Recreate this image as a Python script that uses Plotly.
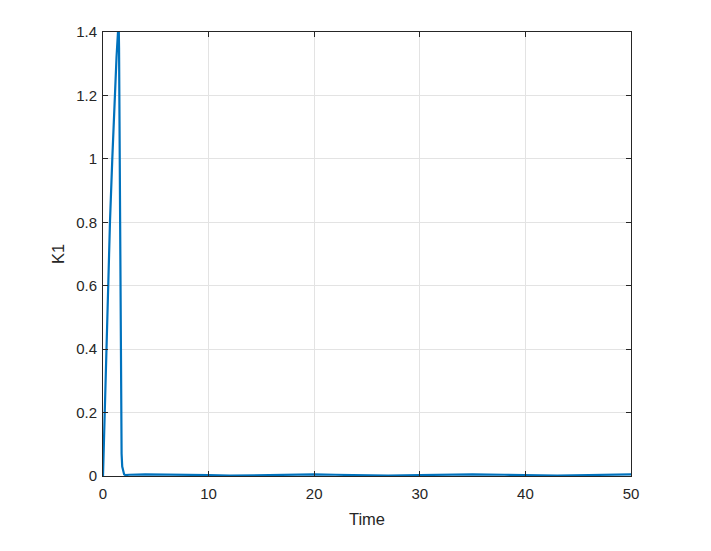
import plotly.graph_objects as go

time = [0, 0.08, 0.16, 0.28, 0.47, 0.66, 0.88, 1.1, 1.28, 1.42, 1.49, 1.52, 1.55, 1.58, 1.61, 1.64, 1.67, 1.71, 1.76, 1.82, 1.9, 2.0, 2.1, 2.5,
        4, 6, 8, 10, 12, 14, 16, 18, 20, 22, 24, 27, 30, 32, 35, 38, 40, 43, 46, 48, 50]
k1 = [0, 0.1, 0.2, 0.4, 0.6, 0.8, 1.0, 1.2, 1.32, 1.40, 1.42, 1.35, 1.15, 0.95, 0.75, 0.5, 0.3, 0.15, 0.07, 0.03, 0.012, 0.005, 0.003, 0.004,
      0.005, 0.005, 0.005, 0.003, 0.001, 0.002, 0.004, 0.005, 0.005, 0.004, 0.003, 0.001, 0.003, 0.004, 0.005, 0.004, 0.003, 0.001, 0.003, 0.004, 0.005]

x_ticks = [0, 10, 20, 30, 40, 50]
y_ticks = [0, 0.2, 0.4, 0.6, 0.8, 1.0, 1.2, 1.4]
y_tick_text = ["0", "0.2", "0.4", "0.6", "0.8", "1", "1.2", "1.4"]

fig = go.Figure()
fig.add_trace(go.Scatter(x=time, y=k1, mode="lines",
                         line=dict(color="#0072BD", width=2.2), showlegend=False))

axis_common = dict(
    showline=True, linecolor="#262626", linewidth=1, mirror="ticks",
    ticks="inside", ticklen=5, tickcolor="#262626",
    showgrid=True, gridcolor="#e3e3e3", gridwidth=1, zeroline=False,
    tickfont=dict(family="Liberation Sans, Arial", size=15, color="#262626"),
)

title_font = dict(family="Liberation Sans, Arial", size=16.5, color="#262626")

fig.update_layout(
    width=711, height=551,
    margin=dict(l=95, r=88, t=24, b=83),
    paper_bgcolor="white", plot_bgcolor="white",
    xaxis=dict(range=[0, 50], tickvals=x_ticks, ticklabelstandoff=4,
               title=dict(text="Time", standoff=12, font=title_font),
               **axis_common),
    yaxis=dict(range=[0, 1.4], tickvals=y_ticks, ticktext=y_tick_text, ticklabelstandoff=2,
               title=dict(text="K1", standoff=7, font=title_font),
               **axis_common),
)

fig.write_html("out.html")
